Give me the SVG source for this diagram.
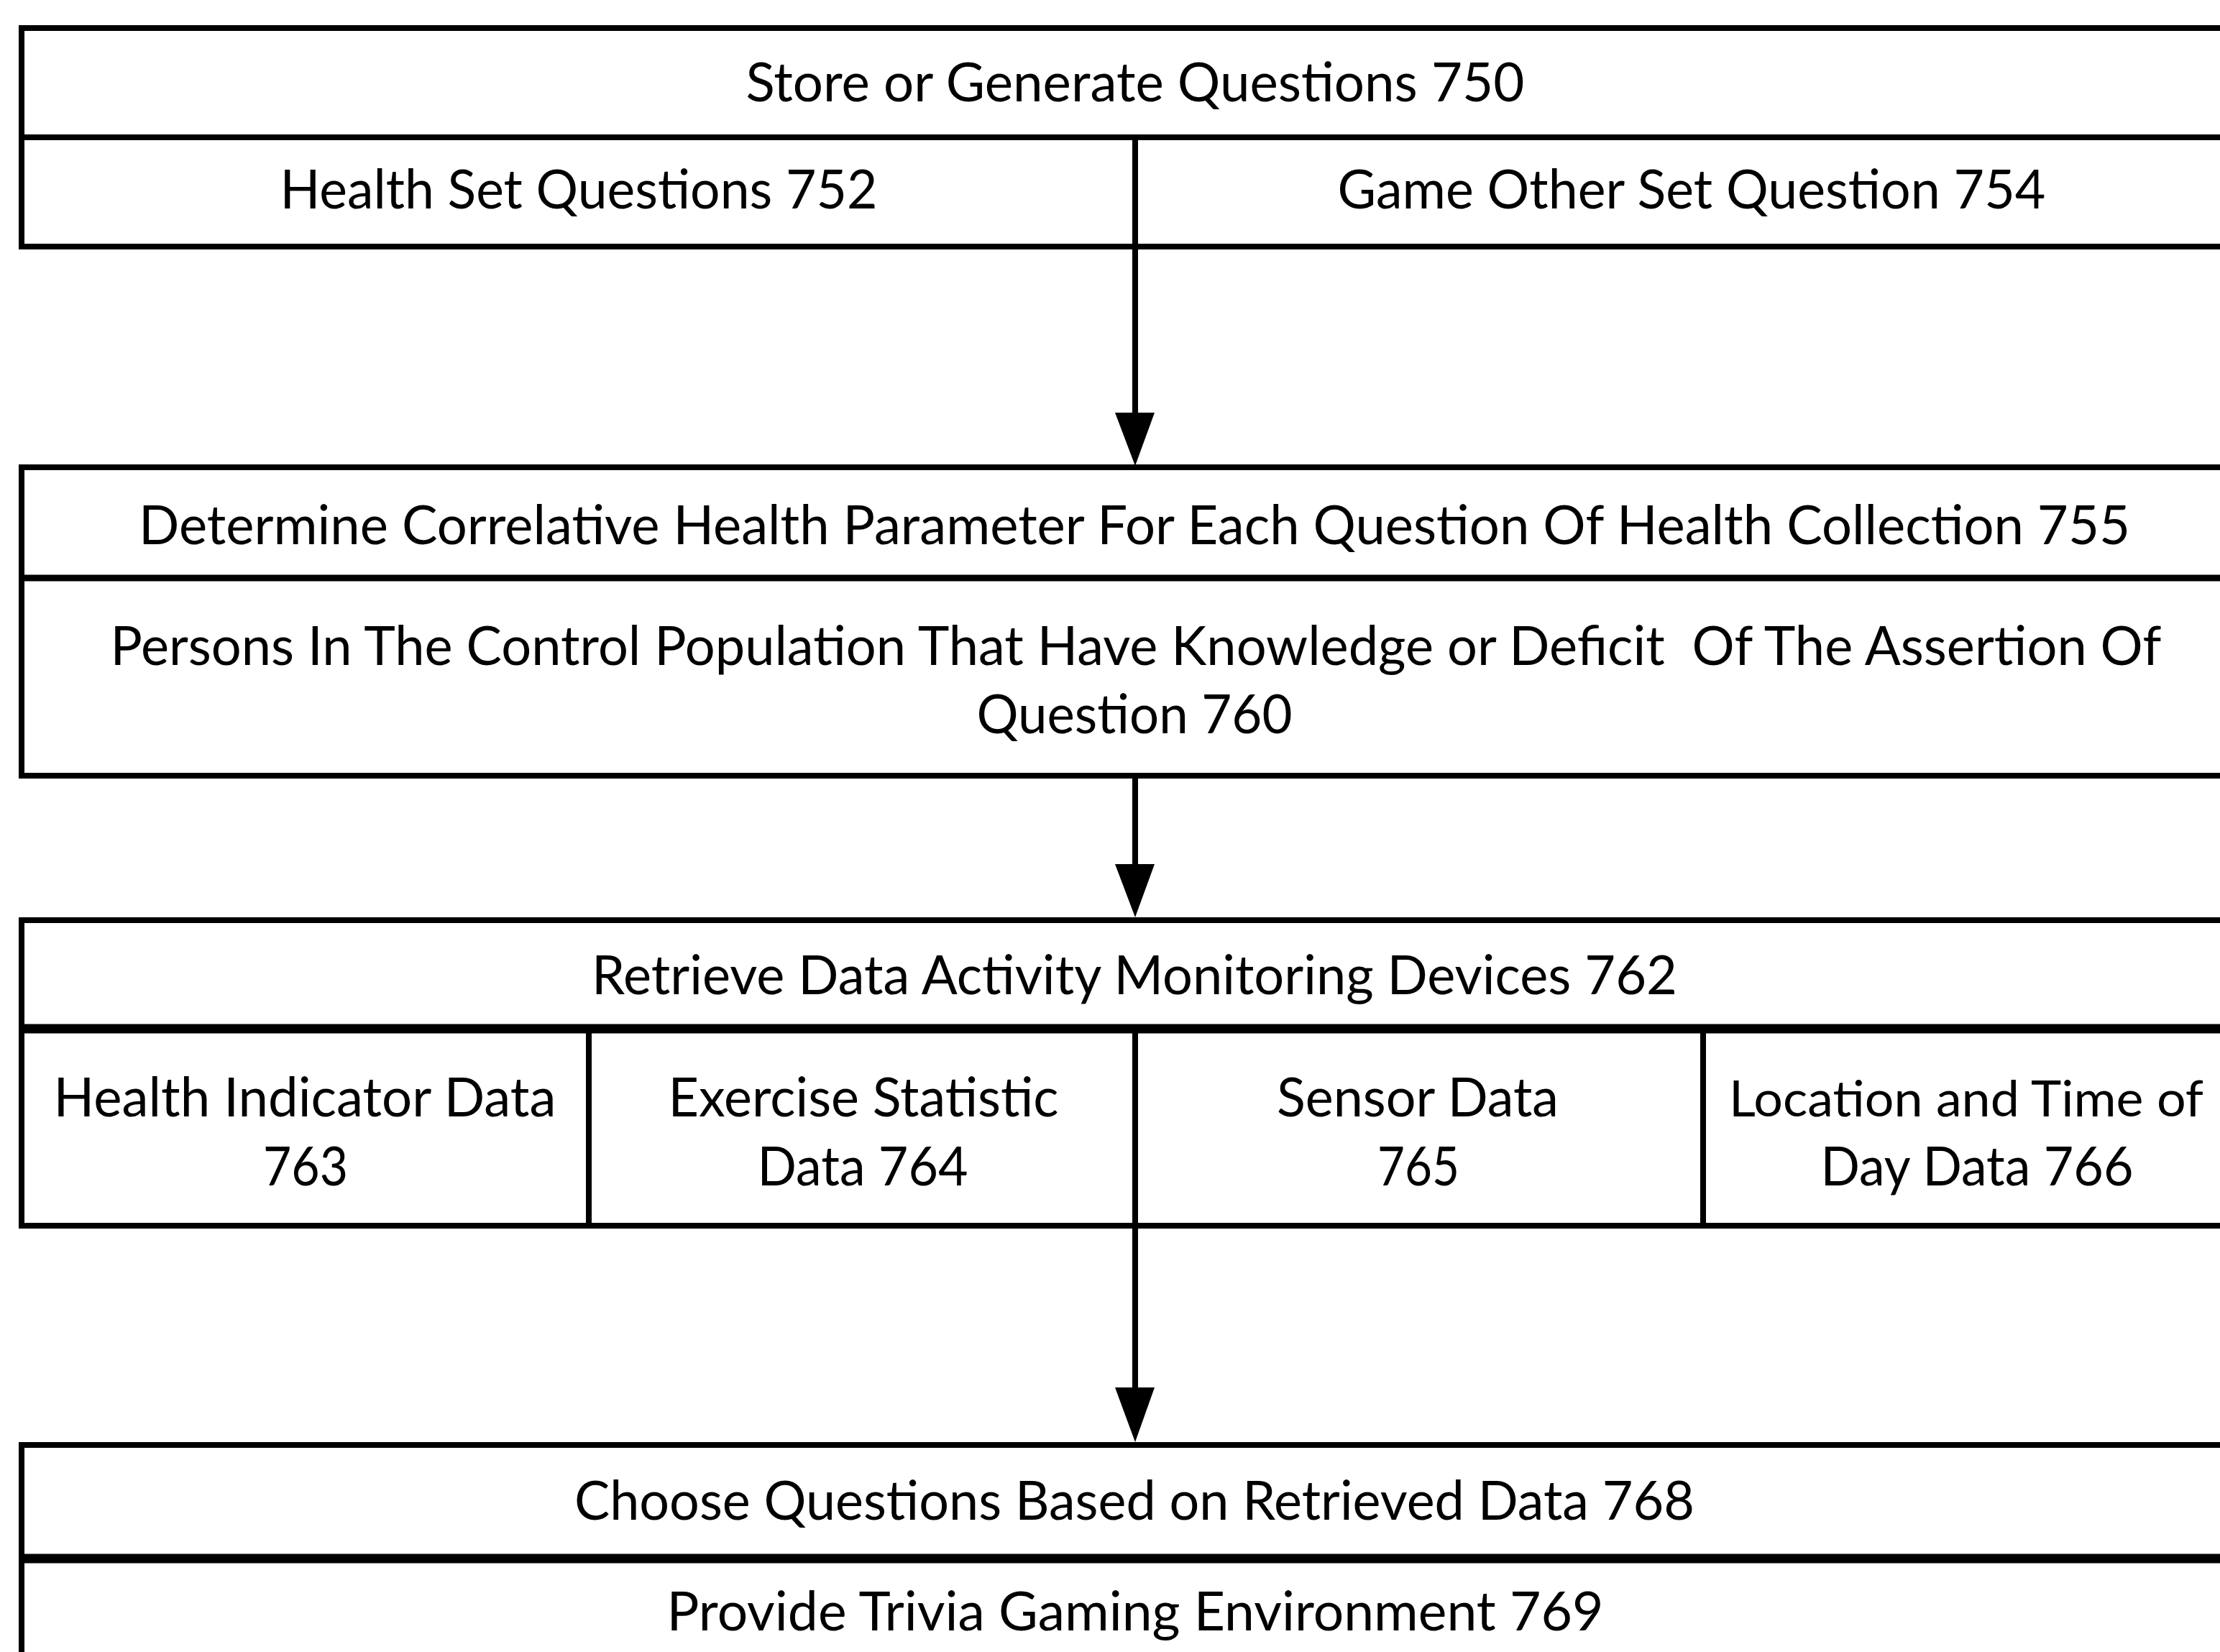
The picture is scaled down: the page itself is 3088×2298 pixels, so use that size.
<svg xmlns="http://www.w3.org/2000/svg" width="3088" height="2298" viewBox="0 0 3088 2298">
<style>
.box{fill:#fff;stroke:#000;stroke-width:8}
.div{stroke:#000;stroke-width:8;fill:none}
.thick{stroke:#000;stroke-width:13;fill:none}
.t{font-family:Lato,"Liberation Sans",sans-serif;font-size:76px;fill:#000;text-anchor:middle}
.conn{stroke:#000;stroke-width:8;fill:none}
.head{fill:#000}
</style>
<rect width="3088" height="2298" fill="#fff"/>
<g id="node-750">
<rect class="box" x="30" y="39" width="3080" height="304"/>
<line class="div" x1="30" y1="191" x2="3110" y2="191"/>
<text class="t" x="1579" y="141" textLength="1083" lengthAdjust="spacingAndGlyphs">Store or Generate Questions 750</text>
</g>
<g id="node-752">
<line class="div" x1="1579" y1="191" x2="1579" y2="343"/>
<text class="t" x="805" y="290" textLength="831" lengthAdjust="spacingAndGlyphs">Health Set Questions 752</text>
</g>
<g id="node-754">
<text class="t" x="2353" y="290" textLength="985" lengthAdjust="spacingAndGlyphs">Game Other Set Question 754</text>
</g>
<g id="node-755">
<rect class="box" x="30" y="650" width="3080" height="429"/>
<line class="thick" x1="30" y1="804" x2="3110" y2="804" style="stroke-width:9"/>
<text class="t" x="1578" y="757" textLength="2770" lengthAdjust="spacingAndGlyphs">Determine Correlative Health Parameter For Each Question Of Health Collection 755</text>
</g>
<g id="node-760">
<text class="t" x="1580" y="925" textLength="2853" lengthAdjust="spacingAndGlyphs" xml:space="preserve">Persons In The Control Population That Have Knowledge or Deficit  Of The Assertion Of</text>
<text class="t" x="1578" y="1020" textLength="439" lengthAdjust="spacingAndGlyphs">Question 760</text>
</g>
<g id="node-762">
<rect class="box" x="30" y="1280" width="3080" height="425"/>
<line class="thick" x1="30" y1="1431" x2="3110" y2="1431"/>
<text class="t" x="1578" y="1383" textLength="1510" lengthAdjust="spacingAndGlyphs">Retrieve Data Activity Monitoring Devices 762</text>
</g>
<g id="node-763">
<line class="div" x1="819" y1="1431" x2="819" y2="1705"/>
<text class="t" x="424" y="1553" textLength="699" lengthAdjust="spacingAndGlyphs">Health Indicator Data</text>
<text class="t" x="425" y="1649" textLength="118" lengthAdjust="spacingAndGlyphs">763</text>
</g>
<g id="node-764">
<text class="t" x="1201" y="1553" textLength="543" lengthAdjust="spacingAndGlyphs">Exercise Statistic</text>
<text class="t" x="1200" y="1649" textLength="293" lengthAdjust="spacingAndGlyphs">Data 764</text>
</g>
<g id="node-765">
<line class="div" x1="1579" y1="1431" x2="1579" y2="1705"/>
<text class="t" x="1972" y="1553" textLength="392" lengthAdjust="spacingAndGlyphs">Sensor Data</text>
<text class="t" x="1973" y="1649" textLength="114" lengthAdjust="spacingAndGlyphs">765</text>
</g>
<g id="node-766">
<line class="div" x1="2369" y1="1431" x2="2369" y2="1705"/>
<text class="t" x="2735" y="1553" textLength="660" lengthAdjust="spacingAndGlyphs" style="font-size:70px">Location and Time of</text>
<text class="t" x="2750" y="1649" textLength="435" lengthAdjust="spacingAndGlyphs">Day Data 766</text>
</g>
<g id="node-768">
<rect class="box" x="30" y="2010" width="3080" height="320"/>
<line class="thick" x1="30" y1="2168" x2="3110" y2="2168"/>
<text class="t" x="1578" y="2114" textLength="1558" lengthAdjust="spacingAndGlyphs">Choose Questions Based on Retrieved Data 768</text>
</g>
<g id="node-769">
<text class="t" x="1579" y="2268" textLength="1303" lengthAdjust="spacingAndGlyphs">Provide Trivia Gaming Environment 769</text>
</g>
<g id="connectors">
<line class="conn" x1="1579" y1="343" x2="1579" y2="578"/>
<polygon class="head" points="1551,574 1606,574 1579,648"/>
<line class="conn" x1="1579" y1="1079" x2="1579" y2="1206"/>
<polygon class="head" points="1551,1202 1606,1202 1579,1276"/>
<line class="conn" x1="1579" y1="1705" x2="1579" y2="1934"/>
<polygon class="head" points="1551,1930 1606,1930 1579,2006"/>
</g>
</svg>
